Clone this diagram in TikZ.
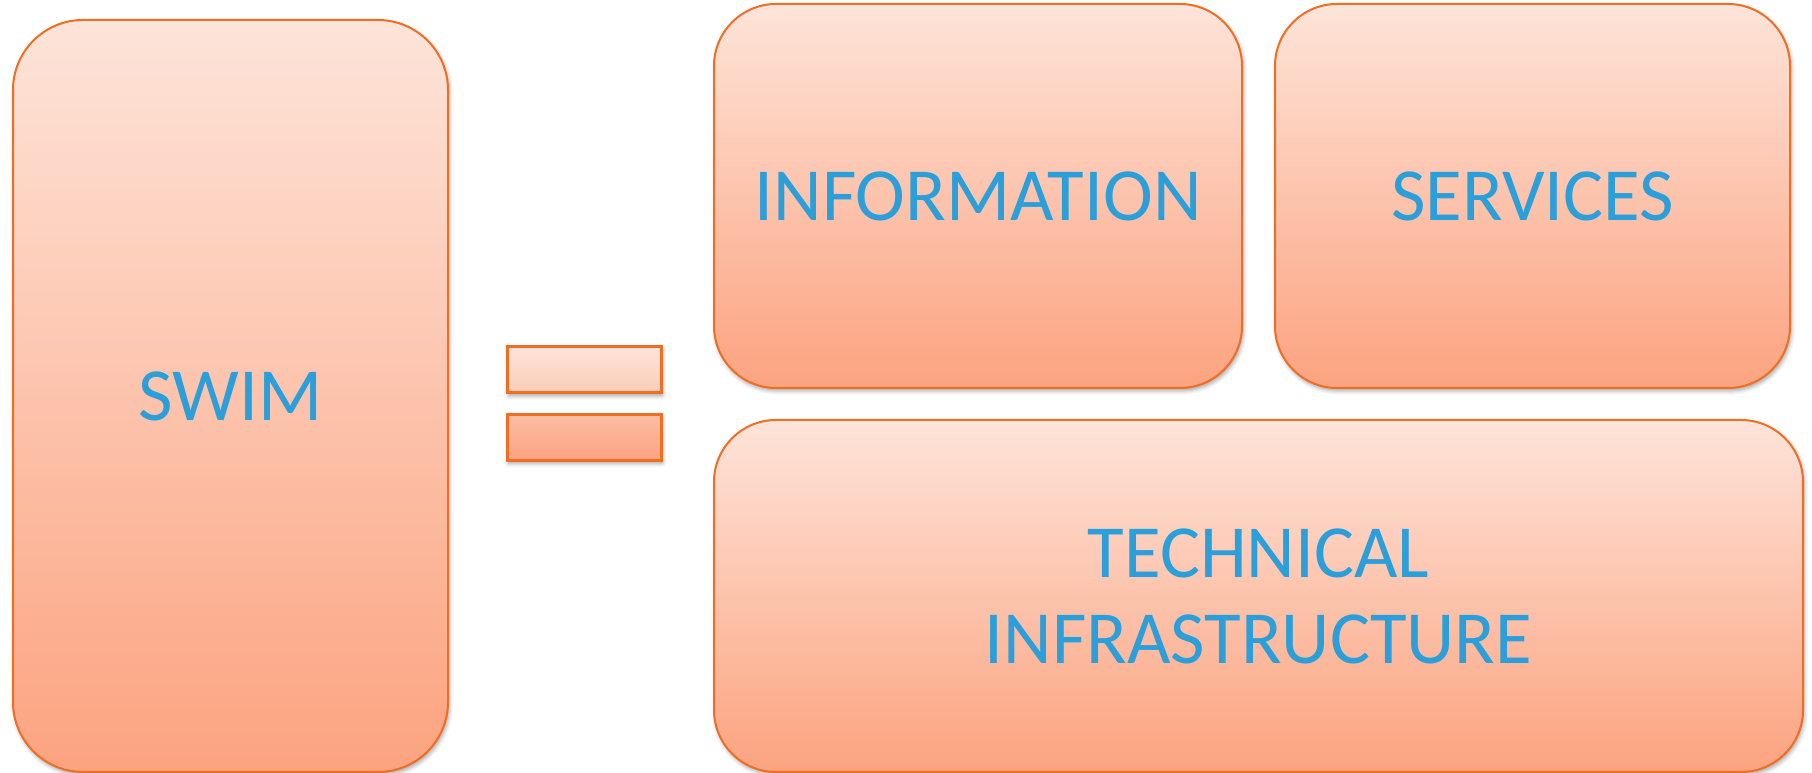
\documentclass[tikz,border=0pt]{standalone}
\usepackage{fontspec}
\setmainfont{Carlito}
\usetikzlibrary{shadows.blur}

\definecolor{borde}{RGB}{241,109,33}
\definecolor{claro}{RGB}{253,228,217}
\definecolor{oscuro}{RGB}{252,163,128}
\definecolor{texto}{RGB}{42,159,217}

\begin{document}
\begin{tikzpicture}[x=1pt, y=1pt,
  bloque/.style={draw=borde, line width=2pt, rounded corners=62pt,
    top color=claro, bottom color=oscuro, inner sep=0pt,
    text=texto, align=center, font=\fontsize{75}{86}\selectfont,
    blur shadow={shadow xshift=1.5pt, shadow yshift=-3pt, shadow blur radius=4pt, shadow opacity=35}},
  barra/.style={draw=borde, line width=3pt, inner sep=0pt,
    minimum width=154pt, minimum height=46pt,
    blur shadow={shadow xshift=1.5pt, shadow yshift=-3pt, shadow blur radius=4pt, shadow opacity=35}}]

\useasboundingbox (0,0) rectangle (1812,773);

% Bloque SWIM
\node[bloque, rounded corners=70pt, minimum width=435pt, minimum height=752pt] (swim) at (230.5,377) {SWIM};

% Signo igual
\node[barra, top color=claro, bottom color=claro!62!oscuro] (igualA) at (584,403) {};
\node[barra, top color=claro!40!oscuro, bottom color=oscuro] (igualB) at (584,335.5) {};

% Informacion
\node[bloque, minimum width=528pt, minimum height=384pt] (info) at (978,577) {INFORMATION};

% Servicios
\node[bloque, minimum width=515pt, minimum height=384pt] (serv) at (1532.5,577) {SERVICES};

% Infraestructura
\node[bloque, minimum width=1089pt, minimum height=352pt] (infra) at (1258.5,177) {TECHNICAL\\INFRASTRUCTURE};

\end{tikzpicture}
\end{document}
